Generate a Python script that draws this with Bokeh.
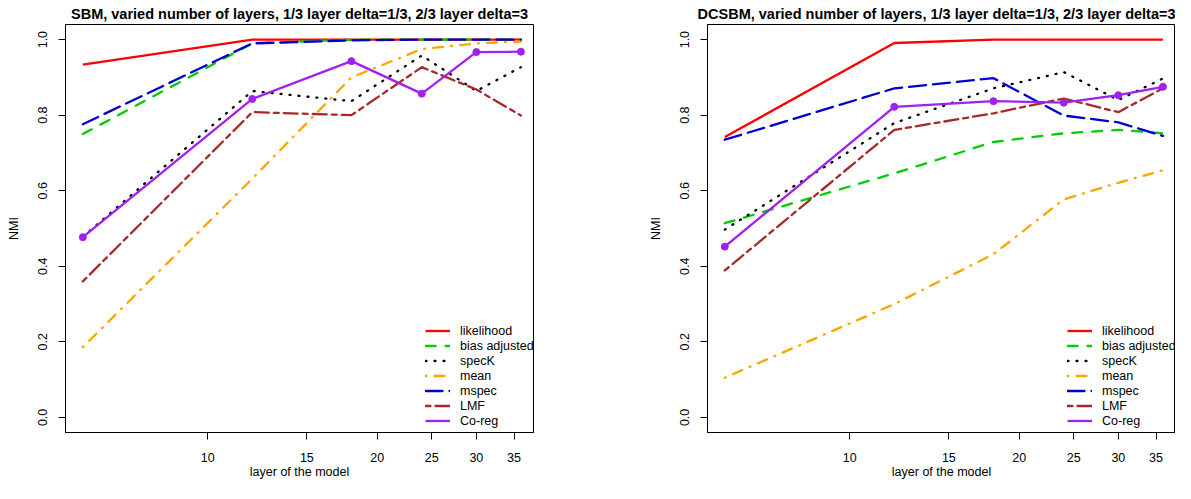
import math
from bokeh.plotting import figure
from bokeh.layouts import row
from bokeh.models import (Legend, LegendItem, Title, FixedTicker,
                          PrintfTickFormatter, Range1d)
from bokeh.embed import file_html
from bokeh.resources import INLINE

# ---------------- data ----------------
layers = [6, 12, 18, 24, 30, 36]
x_ticks = [10, 15, 20, 25, 30, 35]
y_ticks = [0.0, 0.2, 0.4, 0.6, 0.8, 1.0]

method_names = ["likelihood", "bias adjusted", "specK", "mean", "mspec", "LMF", "Co-reg"]

sbm_likelihood = [0.934, 1.0, 1.0, 1.0, 1.0, 1.0]
sbm_bias = [0.750, 0.990, 1.0, 1.0, 1.0, 1.0]
sbm_speck = [0.478, 0.864, 0.837, 0.958, 0.864, 0.927]
sbm_mean = [0.186, 0.632, 0.900, 0.975, 0.990, 0.995]
sbm_mspec = [0.776, 0.990, 0.998, 1.0, 1.0, 1.0]
sbm_lmf = [0.360, 0.808, 0.800, 0.927, 0.868, 0.799]
sbm_coreg = [0.477, 0.843, 0.943, 0.857, 0.967, 0.968]

dcsbm_likelihood = [0.742, 0.991, 1.0, 1.0, 1.0, 1.0]
dcsbm_bias = [0.514, 0.646, 0.729, 0.752, 0.761, 0.752]
dcsbm_speck = [0.497, 0.779, 0.871, 0.914, 0.840, 0.897]
dcsbm_mean = [0.105, 0.300, 0.432, 0.577, 0.621, 0.654]
dcsbm_mspec = [0.735, 0.871, 0.898, 0.799, 0.781, 0.745]
dcsbm_lmf = [0.389, 0.761, 0.805, 0.844, 0.808, 0.871]
dcsbm_coreg = [0.452, 0.822, 0.837, 0.833, 0.853, 0.875]

title_sbm = "SBM, varied number of layers, 1/3 layer delta=1/3, 2/3 layer delta=3"
title_dcsbm = "DCSBM, varied number of layers, 1/3 layer delta=1/3, 2/3 layer delta=3"
x_label = "layer of the model"
y_label = "NMI"

# ---------------- styles ----------------
colors = ["#FF0000", "#00CD00", "#000000", "#FFA500", "#0000CD", "#A52A2A", "#A020F0"]
dashes = ["solid", "10 10", "1 8", "1 8 10 8", "17 7", "5 5 14 5", "solid"]
FONT = "Liberation Sans"
LW = 2.3

FRAME_W = 468
FRAME_H = 408
TOP = 24
BOTTOM = 51


def make_panel(title, series, border_left, border_right, title_align):
    p = figure(width=border_left + FRAME_W + border_right, height=TOP + FRAME_H + BOTTOM,
               x_axis_type="log", x_range=Range1d(5.59, 37.9),
               y_range=Range1d(-0.04, 1.04), output_backend="svg",
               toolbar_location=None, title=None,
               min_border_left=border_left, min_border_right=border_right,
               min_border_top=TOP, min_border_bottom=BOTTOM)
    p.background_fill_color = "white"
    p.border_fill_color = "white"
    p.xgrid.visible = False
    p.ygrid.visible = False
    p.outline_line_color = "black"
    p.outline_line_alpha = 1.0
    p.outline_line_width = 1

    for ax in (p.xaxis, p.yaxis):
        ax.axis_line_color = "black"
        ax.major_tick_line_color = "black"
        ax.major_tick_out = 7
        ax.major_tick_in = 0
        ax.minor_tick_out = 0
        ax.minor_tick_in = 0
        ax.major_label_text_font = FONT
        ax.major_label_text_font_size = "12.5px"
        ax.major_label_text_color = "black"
        ax.axis_label_text_font = FONT
        ax.axis_label_text_font_size = "12.5px"
        ax.axis_label_text_font_style = "normal"
        ax.axis_label_text_color = "black"
    p.xaxis.ticker = FixedTicker(ticks=x_ticks, minor_ticks=[])
    p.xaxis.formatter = PrintfTickFormatter(format="%d")
    p.xaxis.major_label_standoff = 13
    p.xaxis.axis_label = x_label
    p.xaxis.axis_label_standoff = 0
    p.yaxis.ticker = FixedTicker(ticks=y_ticks, minor_ticks=[])
    p.yaxis.formatter = PrintfTickFormatter(format="%.1f")
    p.yaxis.major_label_orientation = "vertical"
    p.yaxis.major_label_standoff = 11
    p.yaxis.axis_label = y_label
    p.yaxis.axis_label_standoff = 15

    items = []
    for name, vals, c, d in zip(method_names, series, colors, dashes):
        r = p.line(layers, vals, line_color=c, line_width=LW, line_dash=d,
                   line_cap="round" if d != "solid" else "butt")
        if name == "Co-reg":
            p.scatter(layers, vals, size=7, fill_color=c, line_color=c)
        items.append(LegendItem(label=name, renderers=[r]))

    leg = Legend(items=items, location=(360, 4), orientation="vertical",
                 glyph_width=25, glyph_height=15, label_height=15,
                 spacing=0, padding=0, margin=0, label_standoff=10,
                 label_text_font=FONT, label_text_font_size="12.5px",
                 label_text_color="black",
                 background_fill_alpha=0, border_line_alpha=0)
    p.add_layout(leg, "center")

    p.add_layout(Title(text=title, align=title_align, text_font=FONT,
                       text_font_style="bold", text_font_size="14.5px",
                       text_color="black", standoff=5, offset=0), "above")
    return p


p1 = make_panel(title_sbm,
                [sbm_likelihood, sbm_bias, sbm_speck, sbm_mean, sbm_mspec, sbm_lmf, sbm_coreg],
                65, 67, "center")
p2 = make_panel(title_dcsbm,
                [dcsbm_likelihood, dcsbm_bias, dcsbm_speck, dcsbm_mean, dcsbm_mspec, dcsbm_lmf, dcsbm_coreg],
                107, 0, "right")

layout = row(p1, p2)
open("out.html", "w").write(file_html(layout, INLINE))
